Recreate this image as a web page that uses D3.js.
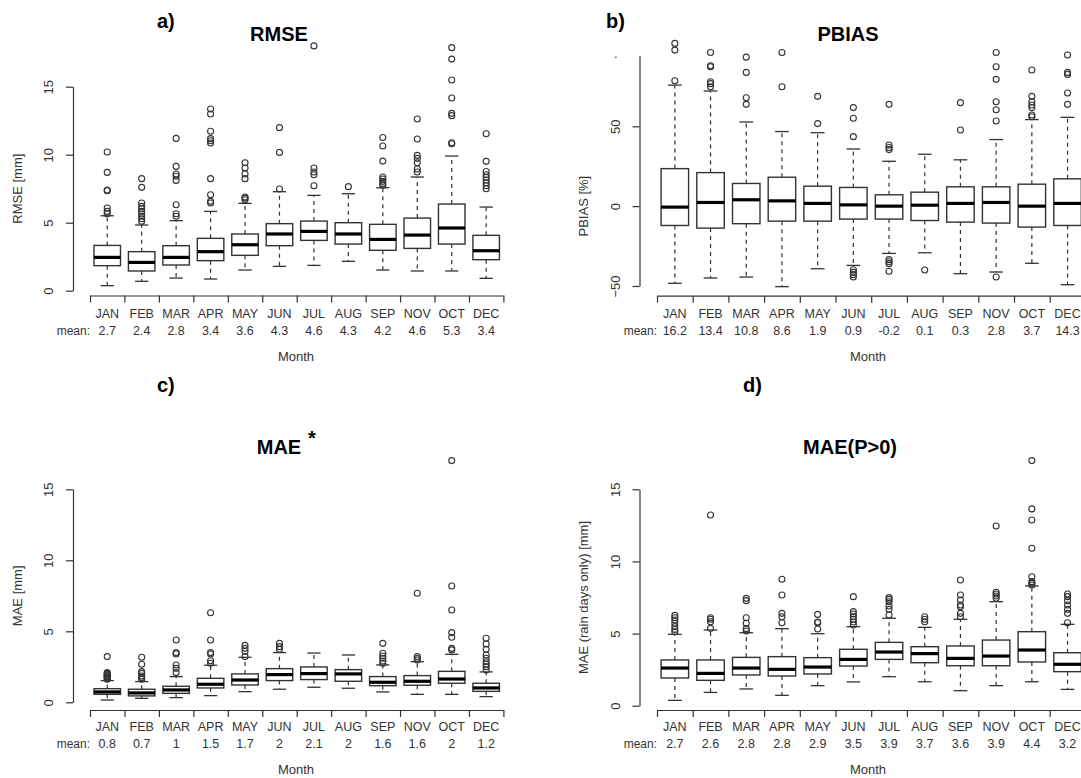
<!DOCTYPE html>
<html>
<head>
<meta charset="utf-8">
<script src="https://cdn.jsdelivr.net/npm/d3@7"></script>
<style>
  body { margin: 0; background: #fff; }
  svg { display: block; font-family: Arial, "Liberation Sans", sans-serif; }
</style>
</head>
<body>
<svg id="chart" width="1081" height="778"></svg>
<script>
// month order as printed in the original (NOV before OCT)
const months = ['JAN','FEB','MAR','APR','MAY','JUN','JUL','AUG','SEP','NOV','OCT','DEC'];

// box stats per month: [lower whisker, Q1, median, Q3, upper whisker]
const rmseStats = [
  [0.37,1.84,2.45,3.33,5.51],[0.69,1.45,2.08,2.87,4.83],[0.93,1.89,2.45,3.31,5.15],
  [0.86,2.21,2.87,3.85,5.83],[1.52,2.60,3.38,4.17,6.42],[1.79,3.31,4.17,4.93,7.28],
  [1.86,3.70,4.36,5.12,7.01],[2.16,3.43,4.17,5.00,7.13],[1.52,2.97,3.77,4.88,7.57],
  [1.45,3.11,4.09,5.34,8.36],[1.45,3.43,4.61,6.37,9.90],[0.91,2.28,2.94,4.07,6.15]
];
const rmseOutliers = [
  [5.66,5.83,6.08,7.35,7.40,8.70,10.2],
  [5.10,5.29,5.47,5.64,5.83,6.03,6.20,6.45,7.60,8.24],
  [5.47,5.66,6.32,8.11,8.41,8.58,9.14,11.2],
  [6.45,6.57,7.06,8.24,10.86,11.03,11.18,11.72,12.99,13.36],
  [6.69,6.81,6.89,8.24,8.58,9.02,9.41],
  [7.48,10.17,11.99],
  [7.72,8.53,8.73,9.02,18.0],
  [7.65],
  [7.75,7.89,8.04,8.21,8.36,9.53,10.64,11.27],
  [8.73,8.95,9.41,9.73,9.95,11.15,12.62],
  [10.81,10.88,12.87,13.04,14.17,15.49,17.03,17.87],
  [7.50,7.72,7.94,8.14,8.33,8.53,8.77,9.51,11.54]
];
const rmseMeans = ['2.7','2.4','2.8','3.4','3.6','4.3','4.6','4.3','4.2','4.6','5.3','3.4'];

const pbiasStats = [
  [-48.3,-12.1,-0.6,23.5,75.8],[-45,-13.75,2.3,21,72.1],[-44.4,-11,4.0,14.2,52.7],
  [-50.4,-9.4,3.3,18.1,46.7],[-39.2,-9.4,1.7,12.5,46.0],[-37.1,-8.1,0.8,11.7,35.8],
  [-29.6,-8.1,0,7.1,28.1],[-29.2,-9.0,0.6,8.75,32.5],[-42.3,-10,1.7,12.1,29],
  [-41.25,-10.6,2.3,12.1,41.7],[-35.8,-13.1,0,13.75,54.2],[-49.2,-12.1,1.7,17.1,55.6]
];
const pbiasOutliers = [
  [78.5,97.7,101.9],
  [74.8,76.7,77.9,87.3,87.9,96.25],
  [63.75,67.9,83.75,93.3],
  [74.8,96.25],
  [51.7,68.75],
  [43.5,55,61.7,-39.8,-41.5,-42.9,-44.4],
  [35.4,36.7,38.3,63.75,-33.5,-34.8,-36.0,-40.8],
  [-40],
  [47.7,64.8],
  [53.3,60.4,65.4,79.4,87.3,96.25,-44.4],
  [56,57.1,61.7,63.3,65.4,68.75,85.2],
  [63.75,70.8,82.5,83.75,94.6]
];
const pbiasMeans = ['16.2','13.4','10.8','8.6','1.9','0.9','-0.2','0.1','0.3','2.8','3.7','14.3'];

const maeStats = [
  [0.16,0.56,0.73,0.96,1.53],[0.28,0.45,0.66,0.92,1.46],[0.33,0.63,0.87,1.13,1.81],
  [0.47,1.01,1.27,1.69,2.61],[0.75,1.22,1.57,2.00,3.17],[0.92,1.53,1.95,2.37,3.50],
  [1.06,1.60,2.02,2.49,3.47],[0.99,1.48,2.00,2.30,3.33],[0.73,1.17,1.41,1.81,2.63],
  [0.56,1.20,1.48,1.88,2.86],[0.56,1.34,1.64,2.18,3.38],[0.40,0.77,1.01,1.34,2.14]
];
const maeOutliers = [
  [1.62,1.68,1.74,1.80,1.85,1.91,1.97,2.03,2.09,3.22],
  [1.62,1.74,1.85,2.04,2.16,2.68,3.17],
  [2.09,2.39,2.63,3.40,3.50,4.39],
  [2.75,2.93,3.40,3.50,4.39,6.31],
  [3.22,3.59,3.80,4.01],
  [3.73,3.92,4.15],
  [],
  [],
  [2.75,2.91,3.10,3.26,3.45,4.15],
  [2.98,3.08,3.22,7.68],
  [3.69,3.80,4.58,4.91,6.50,8.19,17.02],
  [2.28,2.51,2.68,2.86,3.10,3.33,3.73,4.11,4.51]
];
const maeMeans = ['0.8','0.7','1','1.5','1.7','2','2.1','2','1.6','1.6','2','1.2'];

const maeRainStats = [
  [0.37,1.92,2.61,3.17,4.95],[0.92,1.76,2.24,3.17,5.25],[1.16,2.13,2.61,3.35,5.06],
  [0.72,2.06,2.52,3.40,5.34],[1.39,2.20,2.68,3.33,4.99],[1.65,2.75,3.21,3.91,5.48],
  [2.01,3.21,3.72,4.39,6.06],[1.66,2.98,3.61,4.09,5.43],[1.04,2.77,3.28,4.14,5.99],
  [1.39,2.77,3.44,4.55,7.21],[1.66,3.03,3.86,5.13,8.30],[1.13,2.36,2.87,3.67,5.64]
];
const maeRainOutliers = [
  [5.13,5.29,5.48,5.71,5.94,6.10,6.26],
  [5.36,5.82,5.99,6.10,13.22],
  [5.18,5.34,5.71,6.10,7.28,7.44],
  [5.75,6.17,6.40,7.67,8.76],
  [5.32,5.75,5.80,6.33],
  [5.59,5.80,5.99,6.17,6.36,6.52,7.56],
  [6.29,6.68,6.91,7.21,7.37,7.49],
  [5.82,5.99,6.17],
  [6.17,6.40,6.86,6.98,7.33,7.67,8.71],
  [7.44,7.60,7.74,7.86,12.46],
  [8.37,8.48,8.60,8.94,10.91,12.87,13.64,16.99],
  [5.75,6.40,6.68,6.98,7.28,7.56,7.74]
];
const maeRainMeans = ['2.7','2.6','2.8','2.8','2.9','3.5','3.9','3.7','3.6','3.9','4.4','3.2'];

const svg = d3.select('#chart');
const ink = '#333';

// layout of each panel (positions only, the values come from the arrays above)
const panels = [
  { tag: 'a)', tagX: 157, tagY: 28, title: 'RMSE', titleX: 279, titleY: 40.5,
    ylab: 'RMSE [mm]', ylabX: 17, yAxisX: 73, xStart: 90, band: 34.45, axisY: 295.5,
    yDomain: [0, 15], yRange: [290.7, 86.7], ticks: [0, 5, 10, 15],
    stats: rmseStats, outliers: rmseOutliers, means: rmseMeans,
    monthY: 317.5, meanY: 334.5, xlabY: 361, xlabX: 296 },
  { tag: 'b)', tagX: 606, tagY: 28, title: 'PBIAS', titleX: 848, titleY: 40.5,
    ylab: 'PBIAS [%]', ylabX: 583, yAxisX: 639.5, xStart: 657, band: 35.7, axisY: 295.7,
    yDomain: [-50, 94.2], yRange: [286, 55.7], ticks: [-50, 0, 50],
    stats: pbiasStats, outliers: pbiasOutliers, means: pbiasMeans,
    monthY: 317.5, meanY: 334.5, xlabY: 361, xlabX: 868 },
  { tag: 'c)', tagX: 157, tagY: 392, title: 'MAE', titleX: 279, titleY: 454, star: true,
    ylab: 'MAE [mm]', ylabX: 17, yAxisX: 73, xStart: 90, band: 34.45, axisY: 710,
    yDomain: [0, 15], yRange: [702.3, 489.3], ticks: [0, 5, 10, 15],
    stats: maeStats, outliers: maeOutliers, means: maeMeans,
    monthY: 731, meanY: 747.5, xlabY: 773.5, xlabX: 296 },
  { tag: 'd)', tagX: 743, tagY: 392, title: 'MAE(P>0)', titleX: 850, titleY: 454,
    ylab: 'MAE (rain days only) [mm]', ylabX: 583, yAxisX: 639.5, xStart: 657, band: 35.7, axisY: 710,
    yDomain: [0, 15], yRange: [705.7, 489.3], ticks: [0, 5, 10, 15],
    stats: maeRainStats, outliers: maeRainOutliers, means: maeRainMeans,
    monthY: 731, meanY: 747.5, xlabY: 773.5, xlabX: 868 }
];

panels.forEach(p => {
  const g = svg.append('g');

  const xScale = d3.scaleLinear()
    .domain([0, months.length])
    .range([p.xStart, p.xStart + p.band * months.length]);
  const yScale = d3.scaleLinear()
    .domain(p.yDomain)
    .range(p.yRange);

  // x axis: ticks sit between the months
  const xAxisG = g.append('g')
    .attr('transform', `translate(0,${p.axisY})`)
    .call(d3.axisBottom(xScale).tickValues(d3.range(months.length + 1))
      .tickSize(7).tickSizeOuter(0).tickFormat(''));
  xAxisG.selectAll('path, line').attr('stroke', ink).attr('stroke-width', 1.2);

  // y axis with rotated labels (R style)
  const yAxisG = g.append('g')
    .attr('transform', `translate(${p.yAxisX},0)`)
    .call(d3.axisLeft(yScale).tickValues(p.ticks).tickSize(7).tickSizeOuter(0));
  yAxisG.selectAll('path, line').attr('stroke', ink).attr('stroke-width', 1.2);
  yAxisG.selectAll('text')
    .attr('x', 0).attr('y', -20).attr('dy', null)
    .attr('transform', 'rotate(-90)')
    .attr('text-anchor', 'middle')
    .attr('fill', ink)
    .style('font-size', '13px')
    .style('font-family', 'Arial, "Liberation Sans", sans-serif');

  if (p.tag === 'b)') {
    g.append('text').attr('x', 614).attr('y', 58).attr('fill', ink)
      .style('font-size', '13px').text('.');
  }

  // month names and means
  g.selectAll('.month').data(months).enter().append('text')
    .attr('x', (d, i) => xScale(i + 0.5)).attr('y', p.monthY)
    .attr('text-anchor', 'middle').attr('fill', ink)
    .style('font-size', '12.5px').text(d => d);
  g.append('text')
    .attr('x', p.xStart).attr('y', p.meanY)
    .attr('text-anchor', 'end').attr('fill', ink)
    .style('font-size', '12px').text('mean:');
  g.selectAll('.mean').data(p.means).enter().append('text')
    .attr('x', (d, i) => xScale(i + 0.5)).attr('y', p.meanY)
    .attr('text-anchor', 'middle').attr('fill', ink)
    .style('font-size', '12.5px').text(d => d);

  g.append('text')
    .attr('x', p.xlabX).attr('y', p.xlabY)
    .attr('text-anchor', 'middle').attr('fill', ink)
    .style('font-size', '13px').text('Month');

  const yMid = (yScale(p.ticks[0]) + yScale(p.ticks[p.ticks.length - 1])) / 2;
  g.append('text')
    .attr('transform', `translate(${p.ylabX + 4.5},${yMid}) rotate(-90)`)
    .attr('text-anchor', 'middle').attr('fill', ink)
    .style('font-size', '13px').text(p.ylab);

  // titles
  g.append('text')
    .attr('x', p.titleX).attr('y', p.titleY)
    .attr('text-anchor', 'middle').attr('fill', '#000')
    .style('font-size', '20px').style('font-weight', 'bold').text(p.title);
  if (p.star) {
    g.append('text')
      .attr('x', p.titleX + 33).attr('y', p.titleY - 9)
      .attr('text-anchor', 'middle').attr('fill', '#000')
      .style('font-size', '20px').style('font-weight', 'bold').text('*');
  }
  g.append('text')
    .attr('x', p.tagX).attr('y', p.tagY)
    .attr('fill', '#000')
    .style('font-size', '20px').style('font-weight', 'bold').text(p.tag);

  // boxes
  const boxW = p.band * 0.77;
  const boxes = g.selectAll('.box').data(p.stats).enter().append('g')
    .attr('class', 'box')
    .attr('transform', (d, i) => `translate(${xScale(i + 0.5)},0)`);

  // dashed whiskers
  boxes.append('line')
    .attr('x1', 0).attr('x2', 0)
    .attr('y1', d => yScale(d[3])).attr('y2', d => yScale(d[4]))
    .attr('stroke', ink).attr('stroke-width', 1.2).attr('stroke-dasharray', '4,4');
  boxes.append('line')
    .attr('x1', 0).attr('x2', 0)
    .attr('y1', d => yScale(d[1])).attr('y2', d => yScale(d[0]))
    .attr('stroke', ink).attr('stroke-width', 1.2).attr('stroke-dasharray', '4,4');
  // whisker caps
  [0, 4].forEach(k => {
    boxes.append('line')
      .attr('x1', -boxW / 4).attr('x2', boxW / 4)
      .attr('y1', d => yScale(d[k])).attr('y2', d => yScale(d[k]))
      .attr('stroke', ink).attr('stroke-width', 1.3);
  });
  boxes.append('rect')
    .attr('x', -boxW / 2).attr('width', boxW)
    .attr('y', d => yScale(d[3]))
    .attr('height', d => yScale(d[1]) - yScale(d[3]))
    .attr('fill', '#fff').attr('stroke', ink).attr('stroke-width', 1.4);
  boxes.append('line')
    .attr('x1', -boxW / 2).attr('x2', boxW / 2)
    .attr('y1', d => yScale(d[2])).attr('y2', d => yScale(d[2]))
    .attr('stroke', '#000').attr('stroke-width', 3.2);

  // outliers
  boxes.each(function(d, i) {
    d3.select(this).selectAll('circle').data(p.outliers[i]).enter().append('circle')
      .attr('cx', 0).attr('cy', v => yScale(v)).attr('r', 3)
      .attr('fill', 'none').attr('stroke', ink).attr('stroke-width', 1.1);
  });
});
</script>
</body>
</html>
